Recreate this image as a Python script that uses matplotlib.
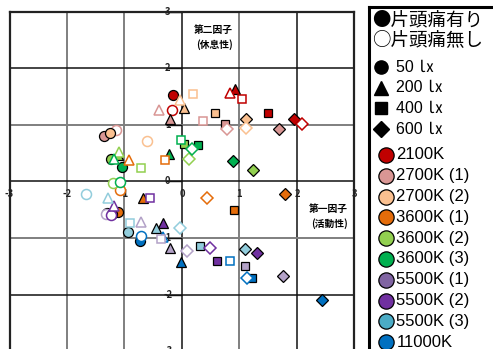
import matplotlib.pyplot as plt

plt.rcParams['font.family'] = ['Noto Sans CJK JP', 'DejaVu Sans']

W, H = 493, 349

conditions = ['2100K', '2700K (1)', '2700K (2)', '3600K (1)', '3600K (2)',
              '3600K (3)', '5500K (1)', '5500K (2)', '5500K (3)', '11000K']
legend_colors = ['#C00000', '#D99694', '#FAC090', '#E46C0A', '#92D050',
                 '#00B050', '#8064A2', '#7030A0', '#4BACC6', '#0070C0']
plot_colors = ['#C00000', '#D99694', '#FAC090', '#E46C0A', '#92D050',
               '#00B050', '#B3A2C7', '#7030A0', '#92CDDC', '#0070C0']

# 片頭痛有り (filled)
circ_on_x = [-0.16, -1.36, -1.26, -1.11, -1.24, -1.05, -1.30, -1.22, -0.94, -0.73]
circ_on_y = [1.53, 0.81, 0.86, -0.54, 0.39, 0.25, -0.55, -0.58, -0.89, -1.06]
tri_on_x = [0.93, -0.20, 0.03, -0.68, -1.12, -0.23, -0.21, -0.33, -0.45, -0.02]
tri_on_y = [1.63, 1.10, 1.29, -0.30, 0.47, 0.48, -1.17, -0.74, -0.83, -1.42]
sq_on_x = [1.50, 0.74, 0.58, 0.90, 0.03, 0.27, 1.09, 0.61, 0.31, 1.22]
sq_on_y = [1.21, 1.01, 1.21, -0.51, 0.66, 0.64, -1.49, -1.40, -1.14, -1.71]
dia_on_x = [1.94, 1.68, 1.12, 1.80, 1.23, 0.89, 1.76, 1.31, 1.09, 2.43]
dia_on_y = [1.10, 0.93, 1.10, -0.23, 0.21, 0.36, -1.67, -1.27, -1.20, -2.10]

# 片頭痛無し (open)
circ_off_x = [-0.17, -1.14, -0.61, -1.07, -1.20, -1.07, -1.33, -1.24, -1.67, -0.71]
circ_off_y = [1.26, 0.91, 0.72, -0.15, -0.02, -0.01, -0.57, -0.60, -0.22, -0.96]
tri_off_x = [0.84, -0.40, -0.04, -0.92, -1.10, -1.19, -0.72, -1.19, -1.29, -0.33]
tri_off_y = [1.57, 1.26, 1.44, 0.38, 0.52, 0.39, -0.71, -0.44, -0.30, -0.98]
sq_off_x = [1.05, 0.37, 0.19, -0.29, -0.72, -0.02, -0.36, -0.56, -0.91, 0.84]
sq_off_y = [1.45, 1.07, 1.54, 0.37, 0.23, 0.73, -1.01, -0.30, -0.74, -1.40]
dia_off_x = [2.08, 0.78, 1.11, 0.43, 0.12, 0.17, 0.08, 0.48, -0.04, 1.13]
dia_off_y = [1.01, 0.92, 0.94, -0.30, 0.39, 0.57, -1.23, -1.18, -0.82, -1.71]

ticks = [-3, -2, -1, 0, 1, 2, 3]
shape_labels = ['50 ㏓', '200 ㏓', '400 ㏓', '600 ㏓']
shape_markers = ['o', '^', 's', 'D']

fig = plt.figure(figsize=(W / 100, H / 100), dpi=100)

# main scatter axes, placed in pixel terms
x0, x1 = 9.5, 354.5
ytop, ybot = 11.7, 351.1
ax = fig.add_axes([x0 / W, 1 - ybot / H, (x1 - x0) / W, (ybot - ytop) / H])
ax.set_xlim(-3, 3)
ax.set_ylim(-3, 3)
ax.set_xticks([])
ax.set_yticks([])
for s in ax.spines.values():
    s.set_linewidth(1.6)
    s.set_color('#222222')

xgrid = {-2: ('#7f7f7f', 1.4), -1: ('#7f7f7f', 1.4), 0: ('#111111', 1.1),
         1: ('#7f7f7f', 1.4), 2: ('#111111', 1.1)}
ygrid = {-2: ('#111111', 1.1), -1: ('#7f7f7f', 1.4), 0: ('#111111', 1.1),
         1: ('#7f7f7f', 1.4), 2: ('#111111', 1.1)}
for v, (c, lw) in xgrid.items():
    ax.axvline(v, color=c, lw=lw, zorder=1)
for v, (c, lw) in ygrid.items():
    ax.axhline(v, color=c, lw=lw, zorder=1)

ax.hlines(ticks, -0.28, 0.0, color='#111111', lw=1.0, zorder=1)

tick_font = dict(fontsize=6.8, fontweight='bold', color='#222222', zorder=2)
for t in ticks:
    ax.text(t, -0.22, str(t), ha='center', va='center', **tick_font)
    ax.text(-0.25, t, str(t), ha='center', va='center', **tick_font)

ax.text(0.88, 2.54, '第二因子\n(休息性)', ha='right', va='center',
        multialignment='right', fontsize=7, fontweight='bold', linespacing=1.5)
ax.text(2.89, -0.62, '第一因子\n(活動性)', ha='right', va='center',
        multialignment='right', fontsize=7, fontweight='bold', linespacing=1.5)

filled = [(circ_on_x, circ_on_y), (tri_on_x, tri_on_y),
          (sq_on_x, sq_on_y), (dia_on_x, dia_on_y)]
opened = [(circ_off_x, circ_off_y), (tri_off_x, tri_off_y),
          (sq_off_x, sq_off_y), (dia_off_x, dia_off_y)]
sizes = {'o': 7.2, '^': 7.4, 's': 6.2, 'D': 5.8}

for (xs, ys), (oxs, oys), m in zip(filled, opened, shape_markers):
    for i, c in enumerate(plot_colors):
        ax.plot(xs[i], ys[i], m, ms=sizes[m], mfc=c, mec='black', mew=0.9,
                zorder=3, clip_on=False)
        ax.plot(oxs[i], oys[i], m, ms=sizes[m], mfc='white', mec=c, mew=1.1,
                zorder=3, clip_on=False)

# legend panel in pixel coordinates
L, T, R, B = 368.5, 7.5, 500, 360
lg = fig.add_axes([L / W, 1 - B / H, (R - L) / W, (B - T) / H])
lg.set_xlim(L, R)
lg.set_ylim(B, T)
lg.set_xticks([])
lg.set_yticks([])
for k, s in lg.spines.items():
    s.set_linewidth(2.2 if k in ('left', 'top') else 0)
    s.set_color('black')

lat = ['Liberation Sans', 'Noto Sans CJK JP']
lg.text(372, 20, '●片頭痛有り', ha='left', va='center', fontsize=13.3)
lg.text(372, 40, '○片頭痛無し', ha='left', va='center', fontsize=13.3)

for i, (m, lab) in enumerate(zip(shape_markers, shape_labels)):
    y = 67 + 20.7 * i
    lg.plot(381, y, m, ms={'o': 9.5, '^': 9.5, 's': 8.5, 'D': 8}[m], color='black')
    lg.text(396, y, lab, ha='left', va='center', fontsize=11.5, family=lat)

for i, (c, lab) in enumerate(zip(legend_colors, conditions)):
    y = 155 + 20.8 * i
    lg.plot(386, y, 'o', ms=11, mfc=c, mec='black', mew=0.9)
    lg.text(396.5, y, lab, ha='left', va='center', fontsize=12, family=lat)

fig.savefig('out.png', dpi=100)
